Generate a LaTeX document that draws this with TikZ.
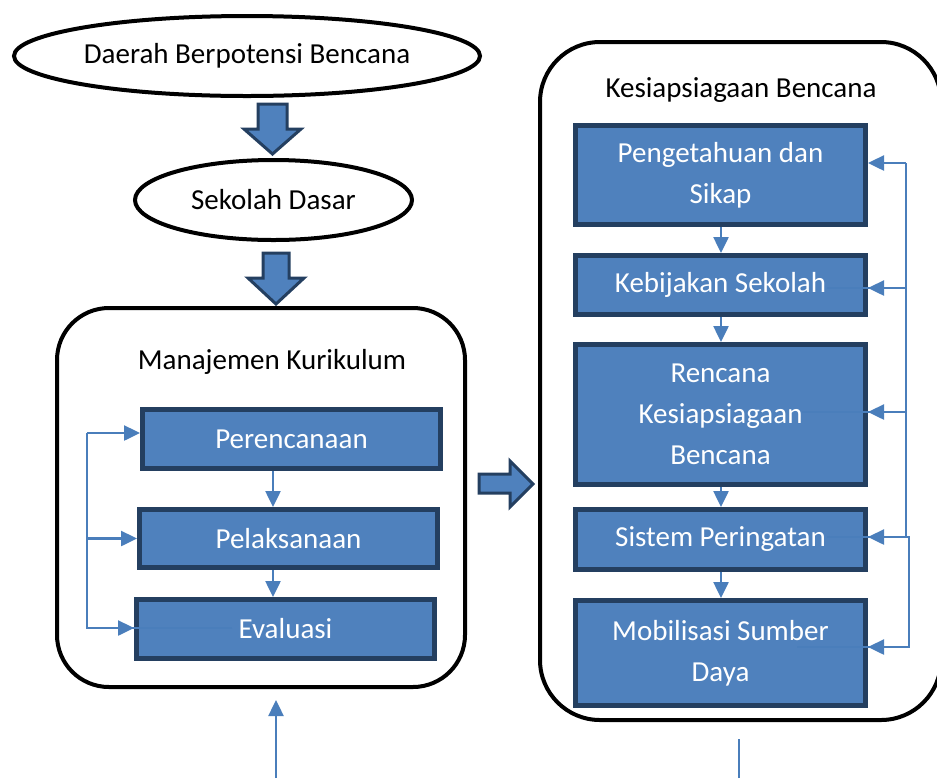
\documentclass[tikz,border=0pt]{standalone}
\usepackage{fontspec}
\setmainfont{Carlito}
\usetikzlibrary{shapes.geometric,arrows.meta}

\definecolor{boxfill}{HTML}{4F81BD}
\definecolor{boxline}{HTML}{243F60}
\definecolor{linkcol}{HTML}{4A7EBB}

\tikzset{
  oval/.style={ellipse, draw, line width=2pt, inner sep=0pt, font=\fontsize{14.5}{20.5}\selectfont},
  frame/.style={draw, line width=2pt, rounded corners=26pt, inner sep=0pt},
  title/.style={inner sep=0pt, font=\fontsize{14.5}{20.5}\selectfont},
  stage/.style={draw=boxline, fill=boxfill, line width=2.5pt, text=white, align=center,
    inner sep=0pt, font=\fontsize{14.5}{20.5}\selectfont},
  link/.style={draw=linkcol, line width=1.25pt},
  linkarrow/.style={link, -{Triangle[length=8pt,width=7.5pt]}},
  bigarrow/.style={draw=boxline, fill=boxfill, line width=1.5pt, line join=miter},
}

\begin{document}
\begin{tikzpicture}[x=0.5pt,y=-0.5pt]
\useasboundingbox (0,0) rectangle (937,778);

% ovals at the top
\node[oval, minimum width=233pt, minimum height=40pt] (daerah) at (247,56) {Daerah Berpotensi Bencana};
\node[oval, minimum width=138.5pt, minimum height=40pt] (sekolah) at (273.5,200) {Sekolah Dasar};

% block arrows
\draw[bigarrow] (258,104) -- (287,104) -- (287,129) -- (301,129) -- (272.5,154) -- (244,129) -- (258,129) -- cycle;
\draw[bigarrow] (263,253) -- (289,253) -- (289,278) -- (304,278) -- (276,304) -- (248,278) -- (263,278) -- cycle;
\draw[bigarrow] (479,474) -- (510,474) -- (510,461) -- (533,484) -- (510,507) -- (510,493) -- (479,493) -- cycle;

% frames
\node[frame, minimum width=204pt, minimum height=189.5pt] (kurikulum) at (261,497.5) {};
\node[frame, rounded corners=30pt, minimum width=200.5pt, minimum height=339pt] (kesiapan) at (740.5,381) {};
\node[title] (kurtitle) at (272,362) {Manajemen Kurikulum};
\node[title] (siaptitle) at (741,90) {Kesiapsiagaan Bencana};

% left stages
\node[stage, minimum width=149pt, minimum height=29.5pt] (perencanaan) at (291.5,439) {Perencanaan};
\node[stage, minimum width=149pt, minimum height=29pt] (pelaksanaan) at (288.5,538.5) {Pelaksanaan};
\node[stage, minimum width=149pt, minimum height=29.5pt] (evaluasi) at (285.5,629) {Evaluasi};

% right stages
\node[stage, minimum width=145pt, minimum height=49.5pt] (pengetahuan) at (720.5,175) {Pengetahuan dan\\Sikap};
\node[stage, minimum width=145pt, minimum height=29.5pt] (kebijakan) at (720.5,285) {Kebijakan Sekolah};
\node[stage, minimum width=145pt, minimum height=70pt] (rencana) at (720.5,414.5) {Rencana\\Kesiapsiagaan\\Bencana};
\node[stage, minimum width=145pt, minimum height=30pt] (sistem) at (720.5,539.5) {Sistem Peringatan};
\node[stage, minimum width=145pt, minimum height=52.5pt] (mobilisasi) at (720.5,653) {Mobilisasi Sumber\\Daya};

% columns and tails
\coordinate (lmid) at (273,0);
\coordinate (rmid) at (721,0);
\coordinate (lbus) at (87,0);
\coordinate (rbus) at (906,0);
\coordinate (rbus2) at (909,0);
\coordinate (evaltail) at (232,628);
\coordinate (kebtail) at (827,288);
\coordinate (rentail) at (802,412);
\coordinate (sistail) at (827,537);
\coordinate (mobtail) at (797,647);
\coordinate (leftfoot) at (276,778);
\coordinate (rightfoot) at (739,778);

% down links
\draw[linkarrow] (perencanaan.south -| lmid) -- (pelaksanaan.north -| lmid);
\draw[linkarrow] (pelaksanaan.south -| lmid) -- (evaluasi.north -| lmid);
\draw[linkarrow] (pengetahuan.south -| rmid) -- (kebijakan.north -| rmid);
\draw[linkarrow] (kebijakan.south -| rmid) -- (rencana.north -| rmid);
\draw[linkarrow] (rencana.south -| rmid) -- (sistem.north -| rmid);
\draw[linkarrow] (sistem.south -| rmid) -- (mobilisasi.north -| rmid);

% feedback on the left
\draw[link] (evaltail) -- (evaltail -| lbus) -- ([yshift=3pt]perencanaan.west -| lbus);
\draw[linkarrow] ([yshift=3pt]perencanaan.west -| lbus) -- ([yshift=3pt]perencanaan.west);
\draw[linkarrow] (pelaksanaan.west -| lbus) -- (pelaksanaan.west);
\draw[linkarrow] (evaltail -| lbus) -- (evaltail -| evaluasi.west);

% feedback on the right
\draw[link] ([yshift=6pt]pengetahuan.east -| rbus) -- (sistail -| rbus);
\draw[linkarrow] ([yshift=6pt]pengetahuan.east -| rbus) -- ([yshift=6pt]pengetahuan.east);
\draw[link] (kebtail) -- (kebtail -| rbus);
\draw[linkarrow] (kebtail -| rbus) -- (kebtail -| kebijakan.east);
\draw[link] (rentail) -- (rentail -| rbus);
\draw[linkarrow] (rentail -| rbus) -- (rentail -| rencana.east);
\draw[link] (sistail) -- (sistail -| rbus2) -- (mobtail -| rbus2) -- (mobtail);
\draw[linkarrow] (sistail -| rbus) -- (sistail -| sistem.east);
\draw[linkarrow] (mobtail -| rbus2) -- (mobtail -| mobilisasi.east);

% bottom links
\draw[linkarrow] (leftfoot) -- ([yshift=-5.5pt]kurikulum.south -| leftfoot);
\draw[link] (rightfoot) -- ([yshift=-8.5pt]kesiapan.south -| rightfoot);

\end{tikzpicture}
\end{document}
